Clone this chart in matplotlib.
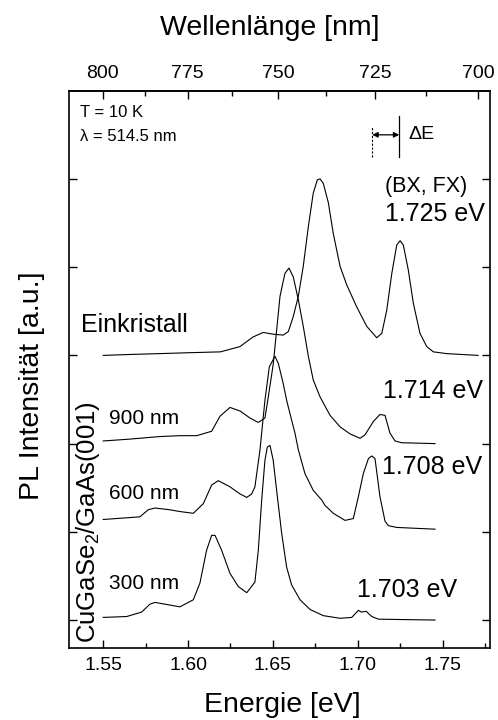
import numpy as np
import matplotlib
matplotlib.use("Agg")
import matplotlib.pyplot as plt
from matplotlib.ticker import MultipleLocator, FixedLocator, FormatStrFormatter

plt.rcParams['font.family'] = ['Liberation Sans', 'DejaVu Sans']
plt.rcParams['mathtext.fontset'] = 'custom'
plt.rcParams['mathtext.rm'] = 'Liberation Sans'
plt.rcParams['mathtext.it'] = 'Liberation Sans'

# PL-Spektren (Energie in eV, Intensität mit Versatz)
e_einkristall = [1.550, 1.565, 1.583, 1.600, 1.6191, 1.6306, 1.6384, 1.6443, 1.6502, 1.6561,
                 1.6591, 1.662, 1.665, 1.6679, 1.6709, 1.6738, 1.6762, 1.6778, 1.6797, 1.6827,
                 1.6856, 1.6896, 1.6935, 1.6994, 1.7053, 1.7112, 1.7142, 1.7171, 1.7201, 1.723,
                 1.725, 1.7269, 1.7298, 1.7328, 1.7367, 1.7407, 1.7446, 1.7525, 1.771]
i_einkristall = [3.00, 3.01, 3.02, 3.03, 3.04, 3.10, 3.21, 3.26, 3.24, 3.23,
                 3.27, 3.44, 3.67, 4.01, 4.46, 4.84, 4.99, 5.00, 4.95, 4.73,
                 4.38, 4.01, 3.80, 3.55, 3.33, 3.20, 3.25, 3.51, 3.93, 4.25,
                 4.30, 4.25, 3.97, 3.59, 3.25, 3.10, 3.04, 3.02, 3.00]

e_900 = [1.550, 1.565, 1.5834, 1.5952, 1.6051, 1.6139, 1.6188, 1.6247, 1.6306, 1.6365,
         1.6414, 1.6453, 1.6473, 1.6502, 1.6542, 1.6571, 1.6595, 1.662, 1.665, 1.6679,
         1.6709, 1.6738, 1.6778, 1.6837, 1.6896, 1.6955, 1.7014, 1.7043, 1.7092, 1.7131,
         1.7161, 1.719, 1.722, 1.7259, 1.7456]
i_900 = [2.03, 2.05, 2.08, 2.09, 2.09, 2.14, 2.31, 2.41, 2.37, 2.29,
         2.24, 2.29, 2.53, 2.90, 3.67, 3.93, 3.99, 3.89, 3.63, 3.33,
         2.99, 2.72, 2.53, 2.32, 2.19, 2.11, 2.06, 2.10, 2.25, 2.33,
         2.32, 2.12, 2.03, 2.01, 2.00]

e_600 = [1.550, 1.5716, 1.5765, 1.5805, 1.5893, 1.5952, 1.6031, 1.609, 1.6139, 1.6178,
         1.6247, 1.6306, 1.6346, 1.6375, 1.6394, 1.6424, 1.6453, 1.6479, 1.6512, 1.6532,
         1.6561, 1.6581, 1.661, 1.663, 1.665, 1.6689, 1.6738, 1.6788, 1.6807, 1.6856,
         1.6925, 1.6974, 1.7004, 1.7033, 1.7063, 1.7083, 1.7102, 1.7131, 1.7161, 1.7181,
         1.723, 1.7456]
i_600 = [1.14, 1.17, 1.25, 1.27, 1.25, 1.23, 1.21, 1.32, 1.53, 1.58,
         1.51, 1.43, 1.39, 1.43, 1.51, 1.93, 2.49, 2.87, 2.99, 2.91,
         2.68, 2.49, 2.27, 2.12, 1.93, 1.66, 1.47, 1.36, 1.30, 1.21,
         1.13, 1.15, 1.40, 1.66, 1.83, 1.86, 1.83, 1.40, 1.12, 1.07,
         1.05, 1.03]

e_300 = [1.550, 1.5638, 1.5726, 1.5775, 1.5805, 1.5893, 1.5952, 1.6031, 1.607, 1.6109,
         1.6139, 1.6159, 1.6198, 1.6247, 1.6296, 1.6346, 1.6394, 1.6414, 1.6434, 1.6453,
         1.6467, 1.6483, 1.6502, 1.6522, 1.6552, 1.6581, 1.661, 1.666, 1.6719, 1.6797,
         1.6896, 1.6965, 1.7004, 1.7024, 1.7049, 1.7083, 1.7122, 1.7456]
i_300 = [0.03, 0.04, 0.09, 0.18, 0.20, 0.17, 0.15, 0.23, 0.42, 0.79,
         0.96, 0.96, 0.79, 0.53, 0.38, 0.31, 0.43, 0.79, 1.36, 1.81,
         1.96, 1.98, 1.81, 1.47, 0.98, 0.60, 0.40, 0.23, 0.12, 0.05,
         0.02, 0.03, 0.11, 0.09, 0.10, 0.04, 0.01, 0.00]

spektren = [(e_einkristall, i_einkristall), (e_900, i_900), (e_600, i_600), (e_300, i_300)]

x_ticks = [1.55, 1.60, 1.65, 1.70, 1.75]
wl_ticks = [800, 775, 750, 725, 700]
wl_minor = [787.5, 762.5, 737.5, 712.5]

fig = plt.figure(figsize=(4.98, 7.2), dpi=100)
ax = fig.add_axes([0.1392, 0.0996, 0.8448, 0.7744])

for e, i in spektren:
    ax.plot(e, i, color='black', lw=0.8)

ax.set_xlim(1.530, 1.778)
ax.set_ylim(-0.32, 6.0)
ax.set_xticks(x_ticks)
ax.xaxis.set_minor_locator(MultipleLocator(0.025))
ax.xaxis.set_major_formatter(FormatStrFormatter('%.2f'))
ax.set_yticks(range(6))
ax.set_yticklabels([])
ax.tick_params(axis='both', which='both', direction='in', right=True, top=False)
ax.tick_params(which='major', length=6, width=1, labelsize=14, pad=6)
ax.tick_params(which='minor', length=3.5, width=1)
for s in ax.spines.values():
    s.set_linewidth(1.2)


def e2l(x):
    x = np.asarray(x, dtype=float)
    with np.errstate(divide='ignore'):
        return 1239.84 / x


sec = ax.secondary_xaxis('top', functions=(e2l, e2l))
sec.set_xticks(wl_ticks)
sec.xaxis.set_minor_locator(FixedLocator(wl_minor))
sec.tick_params(which='both', direction='in', width=1)
sec.tick_params(which='major', length=6, labelsize=14, pad=6)
sec.tick_params(which='minor', length=3.5)
sec.spines['top'].set_linewidth(1.2)

# Achsenbeschriftungen
fig.text(0.566, 0.011, 'Energie [eV]', ha='center', va='baseline', fontsize=20.5)
fig.text(0.542, 0.951, 'Wellenlänge [nm]', ha='center', va='baseline', fontsize=20.5)
fig.text(0.064, 0.464, 'PL Intensität [a.u.]', ha='center', va='center', rotation=90, fontsize=20.5)

# Beschriftungen im Diagramm
ax.text(0.025, 0.9605, 'T = 10 K', transform=ax.transAxes, ha='left', va='center', fontsize=12)
ax.text(0.025, 0.9175, 'λ = 514.5 nm', transform=ax.transAxes, ha='left', va='center', fontsize=12)

ax.text(1.5367, 3.34, 'Einkristall', ha='left', va='center', fontsize=18)
ax.text(1.5534, 2.29, '900 nm', ha='left', va='center', fontsize=15)
ax.text(1.5534, 1.44, '600 nm', ha='left', va='center', fontsize=15)
ax.text(1.5534, 0.41, '300 nm', ha='left', va='center', fontsize=15)
ax.text(1.541, 1.11, 'CuGaSe$_2$/GaAs(001)', ha='center', va='center', rotation=90, fontsize=18.5)

ax.text(1.7161, 4.92, '(BX, FX)', ha='left', va='center', fontsize=15.5)
ax.text(1.7161, 4.60, '1.725 eV', ha='left', va='center', fontsize=18)
ax.text(1.7151, 2.60, '1.714 eV', ha='left', va='center', fontsize=18)
ax.text(1.7142, 1.74, '1.708 eV', ha='left', va='center', fontsize=18)
ax.text(1.6994, 0.34, '1.703 eV', ha='left', va='center', fontsize=18)

# Delta E Markierung
ax.plot([1.7086, 1.7086], [5.25, 5.60], color='black', lw=0.8, ls=(0, (2, 1.5)))
ax.plot([1.7245, 1.7245], [5.25, 5.71], color='black', lw=0.9)
ax.annotate('', xy=(1.7086, 5.50), xytext=(1.7245, 5.50),
            arrowprops=dict(arrowstyle='<|-|>', color='black', lw=0.9,
                            mutation_scale=8, shrinkA=0, shrinkB=0))
ax.text(1.7296, 5.50, 'ΔE', ha='left', va='center', fontsize=14)

fig.savefig('out.png', dpi=100)
